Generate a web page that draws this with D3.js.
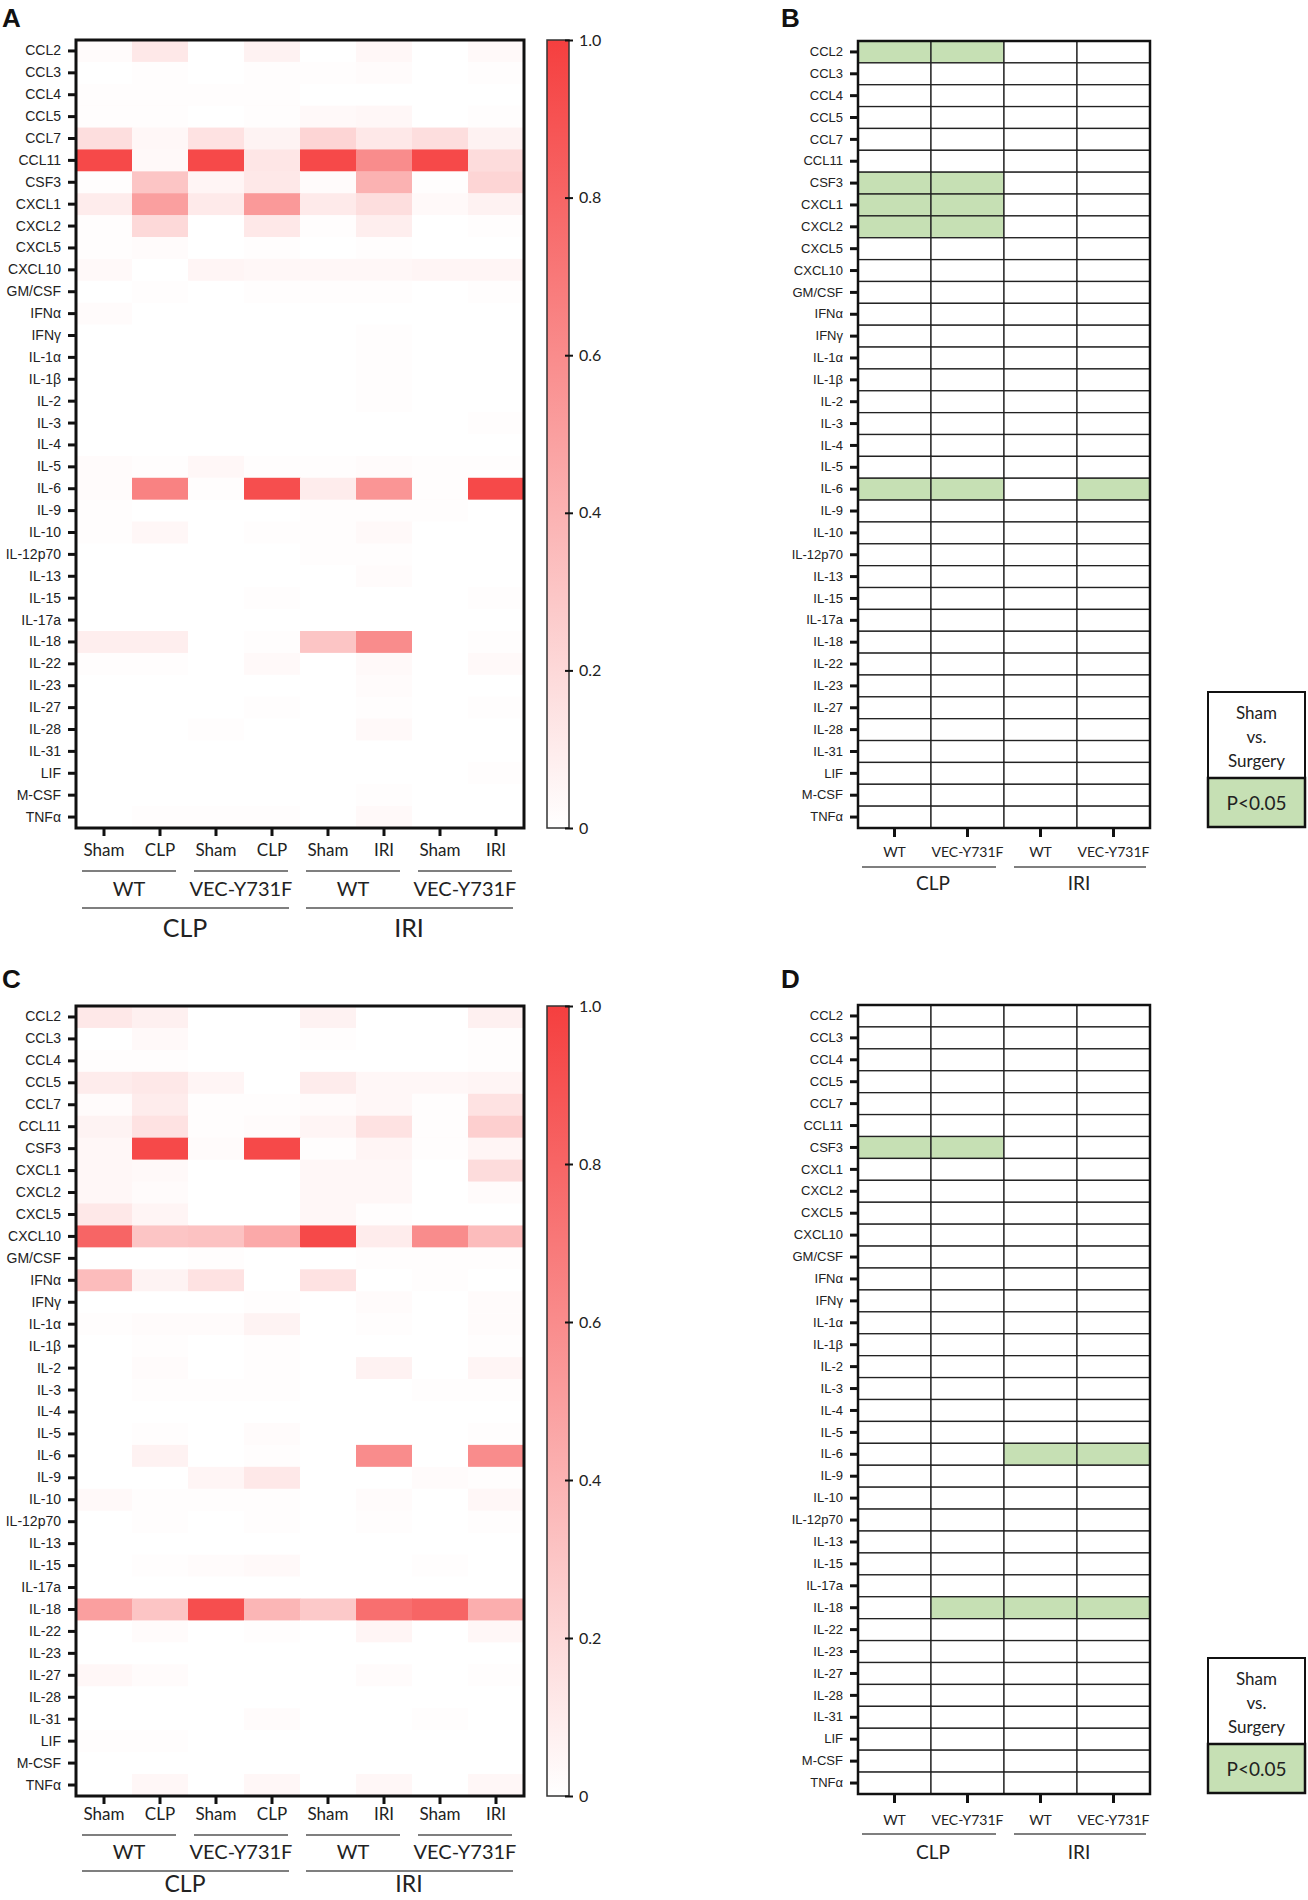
<!DOCTYPE html>
<html>
<head>
<meta charset="utf-8">
<script src="https://cdn.jsdelivr.net/npm/d3@7"></script>
<style>
  body { margin: 0; background: #fff; }
  svg { display: block; }
</style>
</head>
<body>
<div id="chart"></div>
<script>
// ---- data ----
var cytokines = ['CCL2', 'CCL3', 'CCL4', 'CCL5', 'CCL7', 'CCL11', 'CSF3', 'CXCL1', 'CXCL2', 'CXCL5',
  'CXCL10', 'GM/CSF', 'IFNα', 'IFNγ', 'IL-1α', 'IL-1β', 'IL-2', 'IL-3', 'IL-4', 'IL-5', 'IL-6',
  'IL-9', 'IL-10', 'IL-12p70', 'IL-13', 'IL-15', 'IL-17a', 'IL-18', 'IL-22', 'IL-23', 'IL-27',
  'IL-28', 'IL-31', 'LIF', 'M-CSF', 'TNFα'];

var conditions = ['Sham', 'CLP', 'Sham', 'CLP', 'Sham', 'IRI', 'Sham', 'IRI'];
var genotypes = ['WT', 'VEC-Y731F', 'WT', 'VEC-Y731F'];
var models = ['CLP', 'IRI'];
var colorTicks = [0, 0.2, 0.4, 0.6, 0.8, 1.0];

// normalised levels, one row per cytokine, 8 columns (panel A)
var valuesA = [
  [0.02, 0.12, 0, 0.07, 0, 0.04, 0, 0.03],
  [0, 0.01, 0, 0.01, 0.01, 0.02, 0, 0.01],
  [0.01, 0.01, 0.01, 0.01, 0, 0, 0, 0],
  [0.01, 0.01, 0, 0.01, 0.03, 0.04, 0, 0.01],
  [0.17, 0.04, 0.15, 0.06, 0.22, 0.12, 0.17, 0.07],
  [0.95, 0.03, 0.95, 0.13, 0.95, 0.6, 0.95, 0.18],
  [0.01, 0.3, 0.05, 0.12, 0.02, 0.4, 0.01, 0.22],
  [0.1, 0.5, 0.11, 0.53, 0.11, 0.17, 0.03, 0.07],
  [0.01, 0.2, 0, 0.12, 0.01, 0.09, 0, 0.01],
  [0.01, 0.02, 0, 0.01, 0, 0.01, 0, 0],
  [0.03, 0, 0.05, 0.04, 0.04, 0.04, 0.05, 0.05],
  [0, 0.01, 0, 0.01, 0.01, 0.01, 0, 0.01],
  [0.02, 0, 0, 0, 0, 0, 0, 0],
  [0, 0, 0, 0, 0, 0.01, 0, 0],
  [0, 0, 0, 0, 0, 0.01, 0, 0],
  [0, 0, 0, 0, 0, 0.01, 0, 0],
  [0, 0, 0, 0, 0, 0.01, 0, 0],
  [0, 0, 0, 0, 0, 0, 0, 0.01],
  [0, 0, 0, 0, 0, 0, 0, 0],
  [0.02, 0.01, 0.04, 0.01, 0.01, 0.02, 0.01, 0.01],
  [0.02, 0.65, 0.01, 0.92, 0.1, 0.55, 0.01, 0.95],
  [0.01, 0, 0, 0, 0.01, 0.01, 0.01, 0],
  [0.01, 0.04, 0, 0.01, 0.01, 0.03, 0, 0],
  [0, 0, 0, 0, 0.01, 0.01, 0, 0],
  [0, 0, 0, 0, 0, 0.02, 0, 0],
  [0, 0, 0, 0.01, 0, 0, 0, 0.01],
  [0, 0, 0, 0, 0, 0, 0, 0],
  [0.09, 0.09, 0, 0.01, 0.3, 0.6, 0, 0.01],
  [0.01, 0.01, 0, 0.03, 0, 0.03, 0, 0.03],
  [0, 0, 0, 0, 0, 0.02, 0, 0],
  [0, 0, 0, 0.01, 0, 0.01, 0, 0.01],
  [0, 0, 0.01, 0, 0, 0.03, 0, 0],
  [0, 0, 0, 0, 0, 0, 0, 0],
  [0, 0, 0, 0, 0, 0, 0, 0.01],
  [0, 0, 0, 0, 0, 0.01, 0, 0],
  [0, 0.01, 0.01, 0.01, 0, 0.03, 0, 0]
];

// panel C
var valuesC = [
  [0.12, 0.08, 0, 0, 0.07, 0, 0, 0.08],
  [0, 0.03, 0, 0, 0.01, 0, 0, 0.01],
  [0.01, 0.01, 0, 0, 0, 0, 0, 0.01],
  [0.1, 0.12, 0.05, 0, 0.1, 0.04, 0.04, 0.05],
  [0.02, 0.1, 0.01, 0.01, 0.02, 0.04, 0.01, 0.15],
  [0.06, 0.15, 0.01, 0.02, 0.05, 0.15, 0.01, 0.25],
  [0.04, 0.95, 0.02, 0.95, 0.01, 0.05, 0.01, 0.05],
  [0.04, 0.03, 0, 0, 0.04, 0.04, 0, 0.18],
  [0.04, 0.02, 0, 0, 0.04, 0.04, 0, 0.02],
  [0.12, 0.05, 0, 0, 0.04, 0.01, 0, 0],
  [0.8, 0.3, 0.32, 0.45, 0.95, 0.1, 0.6, 0.35],
  [0, 0, 0.01, 0, 0, 0.01, 0.01, 0.01],
  [0.35, 0.06, 0.15, 0, 0.15, 0, 0.01, 0],
  [0, 0, 0, 0.01, 0, 0.02, 0, 0.02],
  [0.01, 0.02, 0.02, 0.06, 0, 0.01, 0, 0.02],
  [0, 0.01, 0, 0.01, 0, 0, 0, 0.01],
  [0, 0.02, 0, 0.01, 0, 0.07, 0, 0.05],
  [0, 0.01, 0.01, 0.01, 0, 0, 0.01, 0.01],
  [0, 0, 0, 0, 0, 0, 0, 0],
  [0, 0.01, 0, 0.02, 0, 0, 0, 0.01],
  [0, 0.07, 0, 0.01, 0, 0.6, 0, 0.6],
  [0, 0, 0.05, 0.12, 0, 0, 0.02, 0.01],
  [0.03, 0.01, 0.01, 0.01, 0, 0.02, 0, 0.04],
  [0, 0.01, 0, 0.01, 0, 0.01, 0, 0.01],
  [0, 0, 0, 0, 0, 0, 0, 0],
  [0, 0.01, 0.02, 0.03, 0, 0, 0.01, 0],
  [0, 0, 0, 0, 0, 0, 0, 0],
  [0.5, 0.3, 0.92, 0.38, 0.28, 0.75, 0.8, 0.42],
  [0, 0.02, 0, 0.01, 0, 0.05, 0, 0.04],
  [0, 0, 0, 0, 0, 0, 0, 0],
  [0.04, 0.02, 0, 0, 0, 0.02, 0, 0.01],
  [0, 0, 0, 0, 0, 0, 0, 0],
  [0, 0, 0, 0.02, 0, 0, 0.01, 0],
  [0.01, 0.01, 0, 0, 0, 0, 0, 0],
  [0, 0, 0, 0, 0, 0, 0, 0],
  [0, 0.04, 0, 0.04, 0, 0.04, 0, 0.04]
];

// significant (Sham vs. Surgery, P<0.05): [cytokine, genotype column]
var sigB = [['CCL2', 0], ['CCL2', 1], ['CSF3', 0], ['CSF3', 1], ['CXCL1', 0], ['CXCL1', 1],
  ['CXCL2', 0], ['CXCL2', 1], ['IL-6', 0], ['IL-6', 1], ['IL-6', 3]];
var sigD = [['CSF3', 0], ['CSF3', 1], ['IL-6', 2], ['IL-6', 3], ['IL-18', 1], ['IL-18', 2], ['IL-18', 3]];

// ---- layout ----
var W = 1308, H = 1900;
var red = '#f53f3f', green = '#c6e0b4', ink = '#222';
var labelFont = '"Liberation Sans", Arial, sans-serif';
var calFont = 'Lato, "Open Sans", sans-serif';

var svg = d3.select('#chart').append('svg')
    .attr('width', W)
    .attr('height', H);

var color = d3.scaleLinear().domain([0, 1]).range(['#ffffff', red]);

var grad = svg.append('defs').append('linearGradient')
    .attr('id', 'cbar')
    .attr('x1', 0).attr('y1', 1).attr('x2', 0).attr('y2', 0);
grad.append('stop').attr('offset', '0%').attr('stop-color', color(0));
grad.append('stop').attr('offset', '100%').attr('stop-color', color(1));

function panelLabel(txt, x, y) {
    svg.append('text')
        .attr('x', x).attr('y', y)
        .attr('font-family', labelFont)
        .attr('font-weight', 'bold')
        .attr('font-size', 26)
        .attr('fill', '#111')
        .text(txt);
}

function rowAxis(g, y, x0, fs) {
    var ax = g.append('g')
        .attr('transform', 'translate(' + x0 + ',0)')
        .call(d3.axisLeft(y).tickSize(7).tickPadding(7));
    ax.select('.domain').remove();
    ax.selectAll('line').attr('stroke', '#111').attr('stroke-width', 3);
    ax.selectAll('text')
        .attr('font-family', labelFont)
        .attr('font-size', fs)
        .attr('fill', ink);
}

function groupLine(g, x1, x2, y) {
    g.append('line')
        .attr('x1', x1).attr('x2', x2)
        .attr('y1', y).attr('y2', y)
        .attr('stroke', '#555').attr('stroke-width', 1.5);
}

function groupText(g, txt, x, y, fs) {
    g.append('text')
        .attr('x', x).attr('y', y)
        .attr('text-anchor', 'middle')
        .attr('font-family', calFont)
        .attr('font-size', fs)
        .attr('fill', ink)
        .text(txt);
}

function drawHeat(values, y0, y1, off) {
    var x0 = 76, x1 = 524;
    var g = svg.append('g');
    var x = d3.scaleBand().domain(d3.range(conditions.length)).range([x0, x1]);
    var y = d3.scaleBand().domain(cytokines).range([y0, y1]);

    var cells = [];
    values.forEach(function (row, i) {
        row.forEach(function (v, j) { cells.push({r: cytokines[i], c: j, v: v}); });
    });
    g.selectAll('rect.cell')
        .data(cells)
      .enter().append('rect')
        .attr('class', 'cell')
        .attr('x', function (d) { return x(d.c); })
        .attr('y', function (d) { return y(d.r); })
        .attr('width', x.bandwidth() + 0.5)
        .attr('height', y.bandwidth() + 0.5)
        .attr('fill', function (d) { return color(d.v); });

    g.append('rect')
        .attr('x', x0).attr('y', y0)
        .attr('width', x1 - x0).attr('height', y1 - y0)
        .attr('fill', 'none').attr('stroke', '#111').attr('stroke-width', 3);

    rowAxis(g, y, x0 - 1, 14);

    // bottom ticks + condition labels
    var bx = g.append('g')
        .attr('transform', 'translate(0,' + (y1 + 1) + ')')
        .call(d3.axisBottom(x).tickSize(7).tickFormat(function (d) { return conditions[d]; }).tickPadding(off.pad));
    bx.select('.domain').remove();
    bx.selectAll('line').attr('stroke', '#111').attr('stroke-width', 3);
    bx.selectAll('text')
        .attr('font-family', calFont)
        .attr('font-size', 17)
        .attr('fill', ink);

    var gw = (x1 - x0) / genotypes.length;
    genotypes.forEach(function (gt, k) {
        var a = x0 + k * gw;
        groupLine(g, a + 6, a + gw - 12, y1 + off.line1);
        groupText(g, gt, a + gw / 2 - 3, y1 + off.geno, 20);
    });
    var mw = (x1 - x0) / models.length;
    models.forEach(function (m, k) {
        var a = x0 + k * mw;
        groupLine(g, a + 6, a + mw - 11, y1 + off.line2);
        groupText(g, m, a + mw / 2 - 3, y1 + off.model, off.modelSize);
    });

    // colour bar
    var cb = svg.append('g');
    var cx0 = 547, cx1 = 569;
    cb.append('rect')
        .attr('x', cx0).attr('y', y0)
        .attr('width', cx1 - cx0).attr('height', y1 - y0)
        .attr('fill', 'url(#cbar)')
        .attr('stroke', '#333').attr('stroke-width', 1.5);
    var cy = d3.scaleLinear().domain([0, 1]).range([y1, y0]);
    var ca = cb.append('g')
        .attr('transform', 'translate(' + cx1 + ',0)')
        .call(d3.axisRight(cy).tickValues(colorTicks).tickSize(4).tickPadding(6)
            .tickFormat(function (d) { return d === 0 ? '0' : d3.format('.1f')(d); }));
    ca.select('.domain').remove();
    ca.selectAll('line').attr('x1', -4).attr('stroke', '#111').attr('stroke-width', 2);
    ca.selectAll('text')
        .attr('font-family', calFont)
        .attr('font-size', 16)
        .attr('fill', ink);
}

function drawSig(sig, y0, y1, off, ly0, ly1, lsplit) {
    var x0 = 858, x1 = 1150;
    var g = svg.append('g');
    var x = d3.scaleBand().domain(d3.range(genotypes.length)).range([x0, x1]);
    var y = d3.scaleBand().domain(cytokines).range([y0, y1]);

    var cells = [];
    cytokines.forEach(function (c) {
        genotypes.forEach(function (gt, j) {
            var hit = sig.some(function (s) { return s[0] === c && s[1] === j; });
            cells.push({r: c, c: j, s: hit});
        });
    });
    g.selectAll('rect.cell')
        .data(cells)
      .enter().append('rect')
        .attr('class', 'cell')
        .attr('x', function (d) { return x(d.c); })
        .attr('y', function (d) { return y(d.r); })
        .attr('width', x.bandwidth())
        .attr('height', y.bandwidth())
        .attr('fill', function (d) { return d.s ? green : '#fff'; })
        .attr('stroke', '#222').attr('stroke-width', 1.3);

    g.append('rect')
        .attr('x', x0).attr('y', y0)
        .attr('width', x1 - x0).attr('height', y1 - y0)
        .attr('fill', 'none').attr('stroke', '#111').attr('stroke-width', 2.5);

    rowAxis(g, y, x0 - 1, 13);

    var bx = g.append('g')
        .attr('transform', 'translate(0,' + (y1 + 1) + ')')
        .call(d3.axisBottom(x).tickSize(8).tickFormat(function (d) { return genotypes[d]; }).tickPadding(off.pad));
    bx.select('.domain').remove();
    bx.selectAll('line').attr('stroke', '#111').attr('stroke-width', 3);
    bx.selectAll('text')
        .attr('font-family', calFont)
        .attr('font-size', 14)
        .attr('fill', ink);

    var mw = (x1 - x0) / models.length;
    models.forEach(function (m, k) {
        var a = x0 + k * mw;
        groupLine(g, a + 4 + k * 6, a + mw - 4 - (1 - k) * 4, y1 + off.line);
        groupText(g, m, a + mw / 2 + 2, y1 + off.model, 19);
    });

    // legend box
    var lx0 = 1208, lx1 = 1305;
    g.append('rect')
        .attr('x', lx0).attr('y', ly0)
        .attr('width', lx1 - lx0).attr('height', lsplit - ly0)
        .attr('fill', '#fff').attr('stroke', '#111').attr('stroke-width', 2);
    g.append('rect')
        .attr('x', lx0).attr('y', lsplit)
        .attr('width', lx1 - lx0).attr('height', ly1 - lsplit)
        .attr('fill', green).attr('stroke', '#111').attr('stroke-width', 2.5);
    var lc = (lx0 + lx1) / 2;
    var lh = (lsplit - ly0) / 3.6;
    ['Sham', 'vs.', 'Surgery'].forEach(function (t, i) {
        groupText(g, t, lc, ly0 + lh * (i + 1) + 3, 17);
    });
    groupText(g, 'P<0.05', lc, (lsplit + ly1) / 2 + 7, 19);
}

panelLabel('A', 2, 27);
panelLabel('B', 781, 27);
panelLabel('C', 2, 988);
panelLabel('D', 781, 988);

drawHeat(valuesA, 40, 828, {pad: 8, line1: 43, geno: 68, line2: 80, model: 109, modelSize: 25});
drawHeat(valuesC, 1006, 1796, {pad: 4, line1: 39, geno: 63, line2: 75, model: 96, modelSize: 23});

drawSig(sigB, 41, 828, {pad: 10, line: 39, model: 62}, 692, 827, 778);
drawSig(sigD, 1005, 1794, {pad: 12, line: 40, model: 65}, 1658, 1793, 1744);
</script>
</body>
</html>
